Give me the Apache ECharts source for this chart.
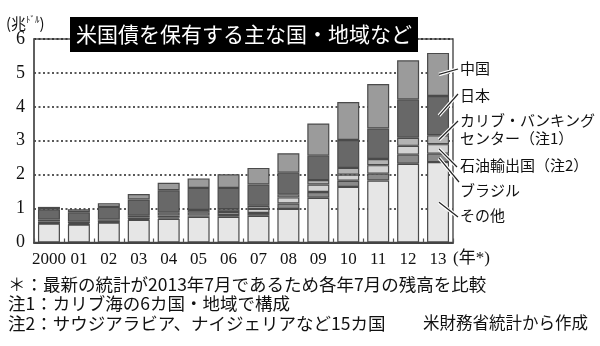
<!DOCTYPE html>
<html>
<head>
<meta charset="utf-8">
<script src="https://cdn.jsdelivr.net/npm/echarts@6/dist/echarts.min.js"></script>
<style>
html,body{margin:0;padding:0;background:#fff;}
#c{width:600px;height:346px;}
</style>
</head>
<body>
<div id="c"></div>
<script>
const years = ['2000','01','02','03','04','05','06','07','08','09','10','11','12','13'];
const seriesNames = ['その他','ブラジル','石油輸出国（注2）','カリブ・バンキング・センター（注1）','日本','中国'];
const other  = [0.56,0.53,0.59,0.67,0.70,0.76,0.76,0.79,0.99,1.32,1.64,1.83,2.32,2.37];
const brazil = [0.01,0.01,0.01,0.02,0.03,0.04,0.05,0.08,0.16,0.17,0.18,0.20,0.27,0.25];
const oil    = [0.05,0.03,0.04,0.05,0.07,0.08,0.09,0.12,0.18,0.22,0.18,0.25,0.26,0.28];
const carib  = [0.06,0.04,0.04,0.05,0.08,0.08,0.08,0.09,0.09,0.13,0.20,0.18,0.24,0.26];
const japan  = [0.30,0.28,0.37,0.48,0.66,0.65,0.63,0.63,0.64,0.72,0.82,0.90,1.13,1.16];
const china  = [0.07,0.09,0.11,0.16,0.22,0.28,0.40,0.49,0.57,0.95,1.12,1.31,1.15,1.27];
const yTicks = [0,1,2,3,4,5,6];
const titleText = '米国債を保有する主な国・地域など';
const notes = [
  '＊：最新の統計が2013年7月であるため各年7月の残高を比較',
  '注1：カリブ海の6カ国・地域で構成',
  '注2：サウジアラビア、ナイジェリアなど15カ国'
];
const sourceText = '米財務省統計から作成';

const colors = ['#e6e6e6','#8a8a8a','#d2d2d2','#b3b3b3','#686868','#9b9b9b'];
const allData = [other, brazil, oil, carib, japan, china];

const JP = '"Noto Sans CJK JP", sans-serif';
const SERIF = '"Liberation Serif", "DejaVu Serif", serif';

const chart = echarts.init(document.getElementById('c'), null, {renderer:'canvas'});

const series = allData.map((d, i) => ({
  name: seriesNames[i],
  type: 'bar',
  stack: 'total',
  barWidth: 22,
  data: d,
  itemStyle: { color: colors[i], borderColor: '#4a4a4a', borderWidth: 1.2 },
  emphasis: { disabled: true },
  z: 3
}));

chart.setOption({
  animation: false,
  backgroundColor: '#fff',
  title: {
    text: titleText,
    left: 70, top: 17,
    backgroundColor: '#000',
    padding: [6, 6, 6, 6],
    textStyle: { color: '#fff', fontFamily: JP, fontSize: 21, fontWeight: 'normal', lineHeight: 23 }
  },
  grid: { left: 34, right: 147, top: 39, bottom: 103.5, show: true, borderColor: '#555', borderWidth: 1.5, backgroundColor: 'transparent' },
  xAxis: {
    type: 'category',
    data: years,
    axisLine: { lineStyle: { color: '#444', width: 2 } },
    axisTick: { show: true, inside: true, length: 4, lineStyle: { color: '#555', width: 1.2 } },
    axisLabel: { color: '#111', fontFamily: SERIF, fontSize: 17, margin: 9, interval: 0 },
    z: 5
  },
  yAxis: {
    type: 'value',
    min: 0, max: 6, interval: 1,
    axisLine: { show: true, lineStyle: { color: '#555', width: 1.5 } },
    axisTick: { show: false },
    axisLabel: { color: '#111', fontFamily: SERIF, fontSize: 18, margin: 9,
      formatter: v => yTicks.includes(v) ? String(v) : '' },
    splitLine: { show: true, lineStyle: { color: '#222', width: 1.5, type: [2, 2.5] } }
  },
  series: series
});

// leader lines + legend labels computed from the data via the axes
const last = years.length - 1;
let cum = 0;
const mids = allData.map(d => { const m = cum + d[last] / 2; cum += d[last]; return m; });
const labelDefs = [
  { s: 0, lines: ['その他'], ty: 215, ex: 458, ey: 217 },
  { s: 1, lines: ['ブラジル'], ty: 190, ex: 459, ey: 182 },
  { s: 2, lines: ['石油輸出国（注2）'], ty: 165, ex: 457, ey: 167 },
  { s: 3, lines: ['カリブ・バンキング', 'センター（注1）'], ty: 120, ex: 458, ey: 121 },
  { s: 4, lines: ['日本'], ty: 95, ex: 458, ey: 94 },
  { s: 5, lines: ['中国'], ty: 68, ex: 458, ey: 69 }
];
const graphics = [];
labelDefs.forEach(L => {
  const p = chart.convertToPixel({ seriesIndex: 0 }, [last, mids[L.s]]);
  const sx = p[0] + 1, sy = p[1];
  graphics.push({ type: 'line', shape: { x1: sx, y1: sy, x2: L.ex, y2: L.ey },
    style: { stroke: '#fff', lineWidth: 3.5 }, z: 10 });
  graphics.push({ type: 'line', shape: { x1: sx, y1: sy, x2: L.ex, y2: L.ey },
    style: { stroke: '#222', lineWidth: 1.2 }, z: 11 });
  L.lines.forEach((t, k) => {
    graphics.push({ type: 'text', x: 460, y: L.ty + k * 18, z: 12,
      style: { text: t, fill: '#111', font: '15px ' + JP, textVerticalAlign: 'middle', textAlign: 'left' } });
  });
});
// unit label
graphics.push({ type: 'text', x: 6, y: 23, z: 12,
  style: { text: '{a|(兆}{b|ﾄﾞﾙ}{a|)}', textVerticalAlign: 'middle',
    rich: { a: { fontSize: 15, fontFamily: JP, fill: '#111' }, b: { fontSize: 9, fontFamily: JP, fill: '#111', verticalAlign: 'top', padding: [0, 0, 6, 0] } } } });
// year unit
graphics.push({ type: 'text', x: 453, y: 259, z: 12,
  style: { text: '(年*)', fill: '#111', font: '17px ' + SERIF + ', ' + JP, textVerticalAlign: 'middle' } });
// footnotes
notes.forEach((t, i) => {
  graphics.push({ type: 'text', x: 8, y: 284 + i * 19.5, z: 12,
    style: { text: t, fill: '#111', font: '17.5px ' + JP, textVerticalAlign: 'middle' } });
});
graphics.push({ type: 'text', x: 588, y: 323, z: 12,
  style: { text: sourceText, fill: '#111', font: '16.5px ' + JP, textVerticalAlign: 'middle', textAlign: 'right' } });

chart.setOption({ graphic: graphics });
</script>
</body>
</html>
